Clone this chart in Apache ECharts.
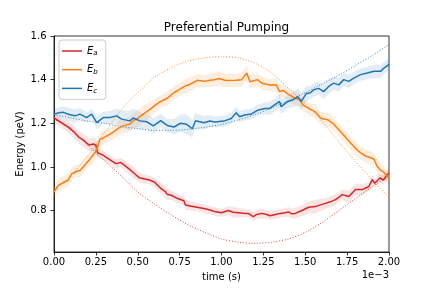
<!DOCTYPE html>
<html><head><meta charset="utf-8">
<script src="https://cdn.jsdelivr.net/npm/echarts@6/dist/echarts.min.js"></script>
<style>html,body{margin:0;padding:0;background:#fff}#c{width:432px;height:288px}</style>
</head><body><div id="c"></div>
<script>
// time in units of 1e-3 s
const xTicks = [0, 0.25, 0.5, 0.75, 1.0, 1.25, 1.5, 1.75, 2.0];
const yTicks = [0.8, 1.0, 1.2, 1.4, 1.6];
const seriesNames = ['E_a', 'E_b', 'E_c'];
const subs = {E_a: 'a', E_b: 'b', E_c: 'c'};

// measured (noisy) curves: [t, value]
const eaData = [[0,1.225],[0.03,1.21],[0.06,1.195],[0.09,1.18],[0.12,1.16],[0.15,1.135],[0.18,1.12],[0.21,1.10],[0.235,1.105],[0.25,1.10],[0.26,1.065],[0.29,1.055],[0.33,1.035],[0.37,1.015],[0.40,1.02],[0.45,0.99],[0.48,0.97],[0.51,0.95],[0.54,0.945],[0.57,0.94],[0.60,0.93],[0.64,0.90],[0.665,0.887],[0.675,0.875],[0.70,0.87],[0.735,0.856],[0.775,0.845],[0.785,0.825],[0.82,0.82],[0.87,0.813],[0.91,0.807],[0.94,0.80],[0.965,0.794],[1.00,0.79],[1.04,0.80],[1.07,0.792],[1.10,0.79],[1.13,0.788],[1.16,0.787],[1.19,0.772],[1.21,0.782],[1.24,0.787],[1.27,0.782],[1.29,0.776],[1.32,0.782],[1.35,0.787],[1.38,0.79],[1.40,0.794],[1.42,0.785],[1.44,0.787],[1.48,0.80],[1.52,0.815],[1.56,0.818],[1.59,0.826],[1.62,0.833],[1.65,0.84],[1.68,0.85],[1.70,0.86],[1.72,0.873],[1.76,0.864],[1.80,0.896],[1.84,0.896],[1.88,0.91],[1.90,0.942],[1.915,0.925],[1.945,0.949],[1.967,0.94],[1.99,0.966],[2.0,0.97]];
const eaSpread = [0.02,0.022,0.025,0.028,0.03,0.03,0.03,0.028,0.03,0.03,0.025,0.022,0.02,0.02,0.022,0.025,0.025,0.022,0.02,0.02,0.022,0.025,0.028,0.025,0.022,0.02,0.02,0.022,0.02,0.018,0.02,0.018,0.02,0.018,0.02,0.025,0.022,0.018,0.018,0.02,0.02,0.022,0.02,0.018,0.02,0.02,0.02,0.022,0.022,0.025,0.025,0.028,0.03,0.028,0.025,0.025,0.025,0.022,0.025,0.028,0.025,0.025,0.02,0.022,0.02,0.02,0.022,0.02,0.02];

const ebData = [[0,0.885],[0.025,0.915],[0.05,0.925],[0.085,0.94],[0.105,0.968],[0.135,0.98],[0.155,0.984],[0.185,1.01],[0.215,1.036],[0.245,1.066],[0.264,1.10],[0.274,1.126],[0.30,1.135],[0.334,1.15],[0.364,1.165],[0.39,1.18],[0.414,1.188],[0.453,1.196],[0.477,1.214],[0.493,1.219],[0.537,1.244],[0.577,1.266],[0.613,1.288],[0.637,1.30],[0.676,1.315],[0.716,1.34],[0.75,1.355],[0.776,1.368],[0.815,1.38],[0.855,1.397],[0.895,1.392],[0.93,1.397],[0.96,1.40],[0.985,1.405],[1.026,1.396],[1.086,1.397],[1.12,1.40],[1.15,1.43],[1.17,1.39],[1.215,1.40],[1.245,1.382],[1.29,1.375],[1.327,1.376],[1.347,1.345],[1.37,1.35],[1.40,1.332],[1.436,1.316],[1.466,1.308],[1.486,1.284],[1.52,1.268],[1.56,1.252],[1.595,1.222],[1.635,1.216],[1.665,1.20],[1.70,1.17],[1.735,1.14],[1.77,1.11],[1.80,1.085],[1.83,1.064],[1.86,1.05],[1.89,1.042],[1.91,1.035],[1.93,1.002],[1.95,0.985],[1.97,0.975],[1.99,0.955],[2.0,0.95]];
const ebSpread = [0.025,0.028,0.03,0.03,0.028,0.03,0.03,0.028,0.03,0.035,0.04,0.035,0.03,0.03,0.032,0.035,0.035,0.032,0.035,0.038,0.04,0.035,0.03,0.03,0.032,0.03,0.03,0.03,0.032,0.03,0.028,0.03,0.032,0.035,0.03,0.03,0.032,0.035,0.03,0.03,0.03,0.028,0.03,0.03,0.028,0.028,0.03,0.03,0.028,0.03,0.03,0.03,0.032,0.03,0.028,0.03,0.03,0.032,0.03,0.03,0.03,0.03,0.032,0.032,0.03,0.03,0.03];

const ecData = [[0,1.242],[0.03,1.248],[0.056,1.25],[0.09,1.24],[0.125,1.234],[0.155,1.242],[0.195,1.226],[0.225,1.242],[0.255,1.203],[0.294,1.226],[0.334,1.226],[0.374,1.234],[0.404,1.219],[0.453,1.211],[0.473,1.224],[0.513,1.211],[0.553,1.207],[0.593,1.188],[0.637,1.212],[0.676,1.19],[0.716,1.183],[0.756,1.20],[0.79,1.196],[0.826,1.175],[0.845,1.212],[0.895,1.202],[0.93,1.21],[0.96,1.206],[1.014,1.21],[1.058,1.222],[1.088,1.248],[1.108,1.23],[1.138,1.238],[1.177,1.242],[1.217,1.26],[1.257,1.268],[1.287,1.268],[1.317,1.284],[1.347,1.30],[1.356,1.276],[1.396,1.30],[1.426,1.307],[1.456,1.322],[1.476,1.30],[1.505,1.335],[1.53,1.34],[1.55,1.353],[1.58,1.36],[1.61,1.345],[1.64,1.369],[1.67,1.384],[1.70,1.376],[1.73,1.40],[1.76,1.392],[1.79,1.407],[1.83,1.423],[1.87,1.43],[1.91,1.438],[1.95,1.438],[1.97,1.453],[2.0,1.47]];
const ecSpread = [0.025,0.025,0.028,0.03,0.03,0.028,0.025,0.025,0.03,0.028,0.03,0.035,0.04,0.045,0.045,0.04,0.035,0.035,0.03,0.03,0.035,0.04,0.045,0.04,0.035,0.03,0.028,0.025,0.025,0.025,0.028,0.025,0.025,0.025,0.025,0.028,0.03,0.03,0.035,0.035,0.03,0.035,0.04,0.04,0.035,0.03,0.03,0.03,0.035,0.035,0.03,0.03,0.03,0.03,0.028,0.028,0.028,0.03,0.03,0.028,0.025];

// theoretical (dotted) curves
const theoryT = [0,0.1,0.2,0.3,0.4,0.5,0.6,0.7,0.8,0.9,1.0,1.1,1.2,1.3,1.4,1.5,1.6,1.7,1.8,1.9,2.0];
const eaTheory = [1.22,1.17,1.10,1.03,0.96,0.885,0.83,0.78,0.735,0.70,0.67,0.655,0.65,0.655,0.67,0.70,0.745,0.80,0.855,0.91,0.96];
const ebTheory = [0.90,0.96,1.05,1.155,1.26,1.34,1.41,1.455,1.485,1.50,1.505,1.50,1.475,1.43,1.36,1.29,1.21,1.115,1.025,0.94,0.86];
const ecTheory = [1.24,1.225,1.21,1.20,1.185,1.175,1.168,1.168,1.172,1.182,1.195,1.215,1.24,1.27,1.305,1.34,1.38,1.42,1.465,1.51,1.56];

const colors = ['#d62728', '#ff7f0e', '#1f77b4'];
const bandColors = ['rgba(214,39,40,0.13)', 'rgba(255,127,14,0.13)', 'rgba(31,119,180,0.13)'];
const FONT = 'DejaVu Sans';

const measured = [eaData, ebData, ecData];
const spreads = [eaSpread, ebSpread, ecSpread];
const theories = [eaTheory, ebTheory, ecTheory];

function bandSeries(i) {
  const d = measured[i], s = spreads[i];
  const rows = d.map((p, k) => {
    const w = s[k] !== undefined ? s[k] : 0.025;
    return [p[0], p[1] - w, p[1] + w];
  });
  return {
    type: 'custom', name: 'band' + i, silent: true, z: 1,
    data: rows, encode: {x: 0, y: [1, 2]},
    renderItem: function (params, api) {
      if (params.dataIndex !== 0) return null;
      const upper = rows.map(r => api.coord([r[0], r[2]]));
      const lower = rows.map(r => api.coord([r[0], r[1]])).reverse();
      return {type: 'polygon', shape: {points: upper.concat(lower)},
        style: {fill: bandColors[i], stroke: null}};
    }
  };
}

const series = [];
for (let i = 0; i < 3; i++) series.push(bandSeries(i));
for (let i = 0; i < 3; i++) {
  series.push({type: 'line', name: seriesNames[i], data: measured[i], symbol: 'none', color: colors[i],
    lineStyle: {width: 1.5, color: colors[i]}, z: 3});
  series.push({type: 'line', name: 'th' + i, data: theoryT.map((t, k) => [t, theories[i][k]]), symbol: 'none',
    smooth: 0.3, lineStyle: {width: 1, color: colors[i], type: [1, 1.8], opacity: 0.85}, z: 2});
}

const chart = echarts.init(document.getElementById('c'), null, {renderer: 'canvas'});
chart.setOption({
  animation: false,
  backgroundColor: '#fff',
  title: {text: 'Preferential Pumping', left: 221.5, textAlign: 'center', top: 17,
    textStyle: {fontFamily: FONT, fontSize: 12, fontWeight: 'normal', color: '#000'}},
  grid: {left: 54, right: 43, top: 36, bottom: 36, show: true, borderColor: '#000', borderWidth: 0.8,
    backgroundColor: 'transparent'},
  legend: {
    data: seriesNames, orient: 'vertical', left: 59, top: 40, padding: [4, 8, 4, 3],
    itemGap: 4.7, itemWidth: 20, itemHeight: 1.5, icon: 'rect',
    borderColor: '#ccc', borderWidth: 1, borderRadius: 3, backgroundColor: 'rgba(255,255,255,0.8)',
    formatter: n => '{e|E}{s|' + subs[n] + '}',
    textStyle: {fontFamily: FONT, fontSize: 10, color: '#000', lineHeight: 14,
      rich: {e: {fontFamily: FONT, fontSize: 10, fontStyle: 'italic', color: '#000', lineHeight: 14},
             s: {fontFamily: FONT, fontSize: 7, fontStyle: 'italic', color: '#000', padding: [5, 0, 0, 0], lineHeight: 14}}}
  },
  xAxis: {type: 'value', min: 0, max: 2, interval: 0.25,
    name: 'time (s)', nameLocation: 'middle', nameGap: 20,
    nameTextStyle: {fontFamily: FONT, fontSize: 10, color: '#000'},
    axisLine: {lineStyle: {color: '#000', width: 0.8}},
    axisTick: {length: 3.5, lineStyle: {color: '#000', width: 0.8}},
    axisLabel: {fontFamily: FONT, fontSize: 10, color: '#000', margin: 5, formatter: v => v.toFixed(2),
      customValues: xTicks},
    splitLine: {show: false}},
  yAxis: {type: 'value', min: 0.61, max: 1.6,
    axisLine: {lineStyle: {color: '#000', width: 0.8}},
    axisTick: {length: 3.5, lineStyle: {color: '#000', width: 0.8}, customValues: yTicks},
    axisLabel: {fontFamily: FONT, fontSize: 10, color: '#000', margin: 7.5, formatter: v => v.toFixed(1),
      customValues: yTicks},
    splitLine: {show: false}},
  graphic: [
    {type: 'text', right: 43, top: 270,
      style: {text: '1e\u22123', fontFamily: FONT, fontSize: 10, fill: '#000', textAlign: 'right'}},
    {type: 'text', x: 20, y: 144, rotation: Math.PI / 2,
      style: {text: 'Energy (peV)', fontFamily: FONT, fontSize: 10, fill: '#000',
        align: 'center', verticalAlign: 'middle'}}
  ],
  series: series
});
</script></body></html>
